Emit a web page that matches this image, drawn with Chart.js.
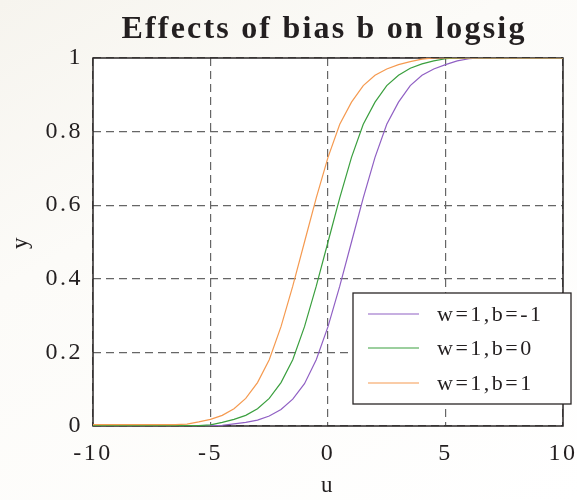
<!DOCTYPE html>
<html>
<head>
<meta charset="utf-8">
<script src="https://cdn.jsdelivr.net/npm/chart.js@4.4.0/dist/chart.umd.min.js"></script>
<style>
html,body{margin:0;padding:0;background:linear-gradient(150deg,#f6f4ee 0%,#fcfbf8 35%,#ffffff 100%);}
canvas{display:block;}
</style>
</head>
<body>
<canvas id="myChart" width="577" height="500"></canvas>
<script>
// values
const uVals=[-10,-9.5,-9,-8.5,-8,-7.5,-7,-6.5,-6,-5.5,-5,-4.5,-4,-3.5,-3,-2.5,-2,-1.5,-1,-0.5,0,0.5,1,1.5,2,2.5,3,3.5,4,4.5,5,5.5,6,6.5,7,7.5,8,8.5,9,9.5,10];
const yBm1=[0.001,0.001,0.001,0.001,0.001,0.001,0.001,0.001,0.001,0.001,0.001,0.002,0.006,0.01,0.016,0.027,0.045,0.073,0.115,0.18,0.27,0.38,0.5,0.62,0.73,0.82,0.88,0.925,0.953,0.97,0.982,0.992,0.998,1,1,1,1,1,1,1,1];
const yB0=[0.001,0.001,0.001,0.001,0.001,0.001,0.001,0.001,0.001,0.001,0.003,0.01,0.018,0.029,0.047,0.075,0.118,0.18,0.27,0.38,0.5,0.62,0.73,0.82,0.88,0.925,0.953,0.972,0.984,0.992,0.998,1,1,1,1,1,1,1,1,1,1];
const yB1=[0.004,0.004,0.004,0.004,0.004,0.004,0.004,0.004,0.005,0.011,0.018,0.029,0.047,0.075,0.118,0.18,0.27,0.38,0.5,0.62,0.73,0.82,0.88,0.925,0.953,0.97,0.982,0.99,0.997,1,1,1,1,1,1,1,1,1,1,1,1];
const seriesNames=['w=1,b=-1','w=1,b=0','w=1,b=1'];
const seriesColors=['#9060c4','#3a9f3e','#f59a50'];
const xTicks=[-10,-5,0,5,10];
const yTicks=[0,0.2,0.4,0.6,0.8,1];
const titleText='Effects of bias b on logsig';

const serif='"Liberation Serif","Times New Roman",serif';

const pts=arr=>uVals.map((u,i)=>({x:u,y:arr[i]}));

const framePlugin={
  id:'frame',
  beforeDraw(chart){
    const a=chart.chartArea, ctx=chart.ctx;
    ctx.save();
    ctx.fillStyle='#ffffff';
    ctx.fillRect(a.left,a.top,a.right-a.left,a.bottom-a.top);
    ctx.restore();
    // wider spacing for the axis texts, like the original
    ctx.letterSpacing='2.5px';
  },
  beforeDatasetsDraw(chart){
    const a=chart.chartArea, ctx=chart.ctx;
    ctx.letterSpacing='0px';
    ctx.save();
    ctx.strokeStyle='#2a2626';
    ctx.lineWidth=1.5;
    ctx.strokeRect(a.left,a.top,a.right-a.left,a.bottom-a.top);
    ctx.restore();
  },
  afterDraw(chart){
    const ctx=chart.ctx;
    ctx.save();
    // title
    ctx.fillStyle='#231f20';
    ctx.font='bold 32px '+serif;
    ctx.letterSpacing='2.2px';
    ctx.textAlign='center';
    ctx.textBaseline='alphabetic';
    ctx.fillText(titleText,324,38);
    // legend
    const bx=353, by=293, bw=218, bh=111;
    ctx.fillStyle='#ffffff';
    ctx.fillRect(bx,by,bw,bh);
    ctx.strokeStyle='#2a2626';
    ctx.lineWidth=1.3;
    ctx.strokeRect(bx,by,bw,bh);
    ctx.font='22px '+serif;
    ctx.letterSpacing='2.5px';
    ctx.textAlign='left';
    ctx.textBaseline='middle';
    const rows=[314,348,383];
    seriesNames.forEach((n,i)=>{
      ctx.strokeStyle=seriesColors[i];
      ctx.lineWidth=1.2;
      ctx.beginPath();
      ctx.moveTo(368,rows[i]);
      ctx.lineTo(419,rows[i]);
      ctx.stroke();
      ctx.fillStyle='#231f20';
      ctx.fillText(n,437,rows[i]+1);
    });
    ctx.restore();
  }
};

const datasets=[yBm1,yB0,yB1].map((arr,i)=>({
  label:seriesNames[i],
  data:pts(arr),
  borderColor:seriesColors[i],
  backgroundColor:seriesColors[i],
  borderWidth:1.2,
  pointRadius:0,
  tension:0,
  fill:false,
  order:3-i
}));

new Chart(document.getElementById('myChart').getContext('2d'),{
  type:'line',
  data:{datasets:datasets},
  options:{
    responsive:false,
    animation:false,
    layout:{padding:{left:0,right:14,top:58,bottom:0}},
    plugins:{legend:{display:false},title:{display:false},tooltip:{enabled:false}},
    scales:{
      x:{
        type:'linear',min:-10,max:10,
        afterBuildTicks:s=>{s.ticks=xTicks.map(v=>({value:v}));},
        afterFit:s=>{s.height=74;s.paddingLeft=0;s.paddingRight=0;},
        ticks:{font:{family:serif,size:24},color:'#231f20',padding:13,maxRotation:0},
        grid:{color:'#666666',lineWidth:1.2,drawTicks:false},
        border:{display:false,dash:[8,5]},
        title:{display:true,text:'u',font:{family:serif,size:23},color:'#231f20',padding:{top:0,bottom:0}}
      },
      y:{
        type:'linear',min:0,max:1,
        afterBuildTicks:s=>{s.ticks=yTicks.map(v=>({value:v}));},
        afterFit:s=>{s.width=93;s.paddingTop=0;s.paddingBottom=0;},
        ticks:{font:{family:serif,size:24},color:'#231f20',padding:10,callback:v=>String(Math.round(v*10)/10)},
        grid:{color:'#666666',lineWidth:1.2,drawTicks:false},
        border:{display:false,dash:[8,5]},
        title:{display:true,text:'y',font:{family:serif,size:23},color:'#231f20',padding:{top:7,bottom:0}}
      }
    }
  },
  plugins:[framePlugin]
});
</script>
</body>
</html>
